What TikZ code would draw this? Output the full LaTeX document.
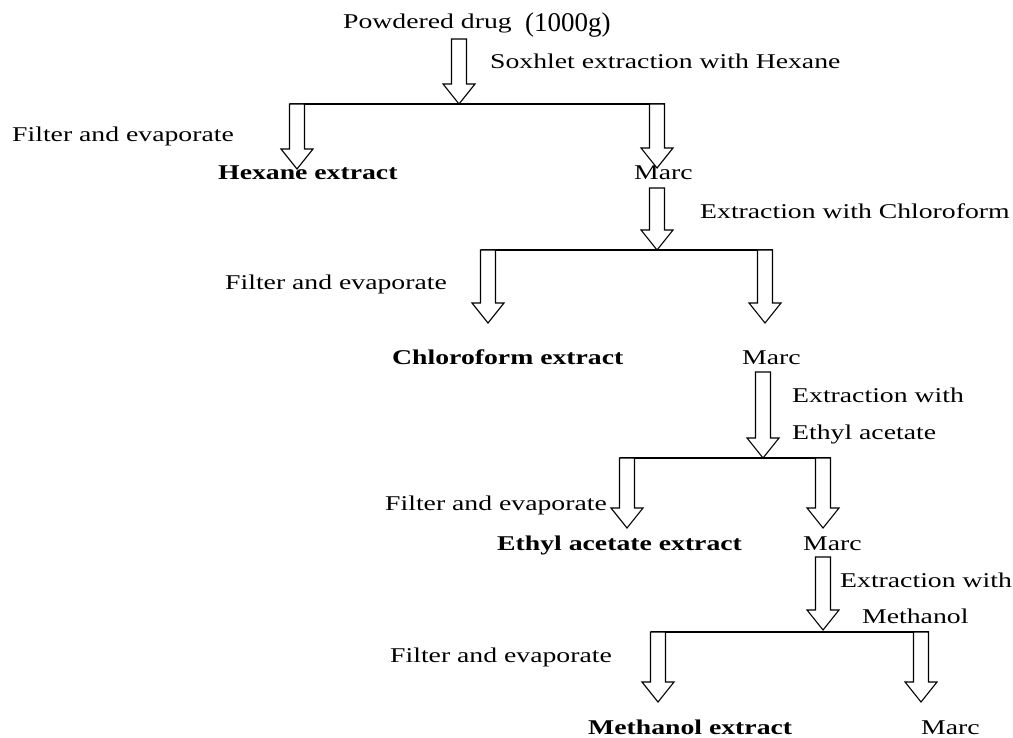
\documentclass[tikz,border=0pt]{standalone}
\usepackage{fontspec}
\setmainfont{Liberation Serif}[FakeStretch=1.32]
\newfontfamily\plainserif{Liberation Serif}
\usetikzlibrary{calc}
\tikzset{
  txt/.style={inner sep=0pt, anchor=base west, font=\fontsize{21pt}{25pt}\selectfont},
  bold/.style={txt, font=\fontsize{21pt}{25pt}\selectfont\bfseries},
  barrow/.style={draw=black, line width=1.1pt, fill=white, line join=miter},
  split/.style={draw=black, line width=1.1pt}
}
% block arrow from top point #1 to tip point #2
\newcommand\blockarrow[2]{%
  \draw[barrow] let \p1=#1, \p2=#2 in
    (\x1-7.5pt,\y1) -- (\x1-7.5pt,\y2+20pt) -- (\x1-16pt,\y2+20pt) -- (\x1,\y2)
    -- (\x1+16pt,\y2+20pt) -- (\x1+7.5pt,\y2+20pt) -- (\x1+7.5pt,\y1) -- cycle;}
\begin{document}
\begin{tikzpicture}[x=1pt,y=-1pt]
\useasboundingbox (0,0) rectangle (1013,738);
% texts
\node[txt] (drug) at (343,29) {Powdered drug};
\node[txt] (mass) at (525,32) {\plainserif\fontsize{27pt}{30pt}\selectfont (1000g)};
\node[txt] (sox) at (490,69) {Soxhlet extraction with Hexane};
\node[txt] (fe1) at (12,142) {Filter and evaporate};
\node[bold] (hex) at (218,180) {Hexane extract};
\node[txt] (marc1) at (634,180) {Marc};
\node[txt] (ext1) at (700,219) {Extraction with Chloroform};
\node[txt] (fe2) at (225,290) {Filter and evaporate};
\node[bold] (chl) at (392,364) {Chloroform extract};
\node[txt] (marc2) at (742,364) {Marc};
\node[txt] (ext2a) at (792,402) {Extraction with};
\node[txt] (ext2b) at (792,439) {Ethyl acetate};
\node[txt] (fe3) at (385,510) {Filter and evaporate};
\node[bold] (eth) at (497,550) {Ethyl acetate extract};
\node[txt] (marc3) at (803,550) {Marc};
\node[txt] (ext3a) at (840,587) {Extraction with};
\node[txt] (ext3b) at (862,623) {Methanol};
\node[txt] (fe4) at (390,662) {Filter and evaporate};
\node[bold] (met) at (588,734) {Methanol extract};
\node[txt] (marc4) at (921,734) {Marc};
% junction coordinates
\coordinate (s0) at (459,39);   \coordinate (j0) at (459,104);
\coordinate (l0a) at (297,104); \coordinate (l0b) at (657,104);
\coordinate (t0a) at (297,169); \coordinate (t0b) at (657,168);
\coordinate (s1) at (657,188);  \coordinate (j1) at (657,250);
\coordinate (l1a) at (488,250); \coordinate (l1b) at (765,250);
\coordinate (t1a) at (488,323); \coordinate (t1b) at (765,323);
\coordinate (s2) at (763,372);  \coordinate (j2) at (763,458);
\coordinate (l2a) at (627,458); \coordinate (l2b) at (823,458);
\coordinate (t2a) at (627,528); \coordinate (t2b) at (823,528);
\coordinate (s3) at (823,557);  \coordinate (j3) at (823,630);
\coordinate (l3a) at (658,632); \coordinate (l3b) at (921,632);
\coordinate (t3a) at (658,702); \coordinate (t3b) at (921,702);
% level 0
\blockarrow{(s0)}{(j0)}
\draw[split] ([xshift=-7.5pt]l0a) -- ([xshift=7.5pt]l0b);
\blockarrow{(l0a)}{(t0a)}
\blockarrow{(l0b)}{(t0b)}
% level 1
\blockarrow{(s1)}{(j1)}
\draw[split] ([xshift=-7.5pt]l1a) -- ([xshift=7.5pt]l1b);
\blockarrow{(l1a)}{(t1a)}
\blockarrow{(l1b)}{(t1b)}
% level 2
\blockarrow{(s2)}{(j2)}
\draw[split] ([xshift=-7.5pt]l2a) -- ([xshift=7.5pt]l2b);
\blockarrow{(l2a)}{(t2a)}
\blockarrow{(l2b)}{(t2b)}
% level 3
\blockarrow{(s3)}{(j3)}
\draw[split] ([xshift=-7.5pt]l3a) -- ([xshift=7.5pt]l3b);
\blockarrow{(l3a)}{(t3a)}
\blockarrow{(l3b)}{(t3b)}
\end{tikzpicture}
\end{document}
